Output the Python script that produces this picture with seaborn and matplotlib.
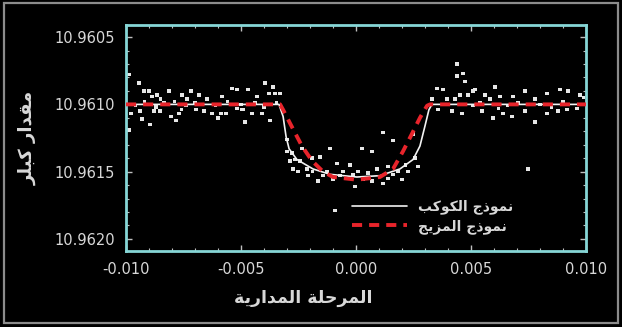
import matplotlib
matplotlib.use("Agg")
import matplotlib.pyplot as plt
from matplotlib.patches import Rectangle
import seaborn as sns
import pandas as pd

# Arabic presentation forms: isolated, final, initial, medial
FORMS = {
    "ا": ("\uFE8D", "\uFE8E", None, None),
    "ب": ("\uFE8F", "\uFE90", "\uFE91", "\uFE92"),
    "ة": ("\uFE93", "\uFE94", None, None),
    "ج": ("\uFE9D", "\uFE9E", "\uFE9F", "\uFEA0"),
    "ح": ("\uFEA1", "\uFEA2", "\uFEA3", "\uFEA4"),
    "د": ("\uFEA9", "\uFEAA", None, None),
    "ذ": ("\uFEAB", "\uFEAC", None, None),
    "ر": ("\uFEAD", "\uFEAE", None, None),
    "ز": ("\uFEAF", "\uFEB0", None, None),
    "ق": ("\uFED5", "\uFED6", "\uFED7", "\uFED8"),
    "ك": ("\uFED9", "\uFEDA", "\uFEDB", "\uFEDC"),
    "ل": ("\uFEDD", "\uFEDE", "\uFEDF", "\uFEE0"),
    "م": ("\uFEE1", "\uFEE2", "\uFEE3", "\uFEE4"),
    "ن": ("\uFEE5", "\uFEE6", "\uFEE7", "\uFEE8"),
    "و": ("\uFEED", "\uFEEE", None, None),
    "ي": ("\uFEF1", "\uFEF2", "\uFEF3", "\uFEF4"),
}


def shape_ar(text):
    """join letters then reverse for right-to-left display"""
    out = []
    for word in text.split(" "):
        shaped = []
        for i, ch in enumerate(word):
            f = FORMS.get(ch)
            if f is None:
                shaped.append(ch)
                continue
            prev = FORMS.get(word[i - 1]) if i > 0 else None
            nxt = FORMS.get(word[i + 1]) if i + 1 < len(word) else None
            join_prev = prev is not None and prev[2] is not None
            join_next = nxt is not None and f[2] is not None
            if join_prev and join_next:
                shaped.append(f[3])
            elif join_prev:
                shaped.append(f[1])
            elif join_next:
                shaped.append(f[2])
            else:
                shaped.append(f[0])
        out.append("".join(shaped))
    return " ".join(out)[::-1]


# texts
XLABEL = "المرحلة المدارية"
YLABEL = "مقدار كبلر"
PLANET_LABEL = "نموذج الكوكب"
BLEND_LABEL = "نموذج المزيج"

# observed points (phase, Kepler magnitude)
obs_phase = [
    -0.00987, -0.00944, -0.00922, -0.00900, -0.00887, -0.00865, -0.00813, -0.00757,
    -0.00717, -0.00683, -0.00648, -0.00583, -0.00539, -0.00517, -0.00978, -0.00987,
    -0.00939, -0.00896, -0.00878, -0.00852, -0.00835, -0.00804, -0.00783, -0.00770,
    -0.00735, -0.00696, -0.00661, -0.00626, -0.00587, -0.00565, -0.00517, -0.00496,
    -0.00470, -0.00396, -0.00361, -0.00378, -0.00352, -0.00330, -0.00430, -0.00483,
    -0.00452, -0.00409, -0.00374, -0.00491, -0.00960, -0.00920, -0.00870, -0.00790,
    -0.00740, -0.00700, -0.00610, -0.00560, -0.00500, -0.00440, -0.00400, -0.00345,
    -0.00600, -0.00760, -0.00850, -0.00930,
    -0.00300, -0.00300, -0.00278, -0.00287, -0.00265, -0.00252, -0.00235, -0.00191,
    -0.00157, -0.00113, -0.00213, -0.00209, -0.00165, -0.00126, -0.00083, -0.00057,
    -0.00070, -0.00026, -0.00013, -0.00004, -0.00143, -0.00243, -0.00274, 0.00026,
    0.00070, 0.00117, 0.00161, 0.00009, 0.00052, 0.00091, 0.00139, 0.00183,
    0.00139, 0.00200, 0.00117, 0.00070, 0.00226, 0.00270, 0.00257, 0.00248,
    0.00030, -0.00100, 0.00160, -0.00190, 0.00215,
    0.00352, 0.00378, 0.00330, 0.00357, 0.00396, 0.00430, 0.00417, 0.00439,
    0.00465, 0.00439, 0.00474, 0.00452, 0.00487, 0.00461, 0.00509, 0.00509,
    0.00517, 0.00561, 0.00604, 0.00583, 0.00626, 0.00683, 0.00735, 0.00778,
    0.00830, 0.00887, 0.00922, 0.00974, 0.00548, 0.00596, 0.00639, 0.00678,
    0.00735, 0.00778, 0.00830, 0.00878, 0.00917, 0.00961, 0.00704, 0.00748,
    0.00540, 0.00660, 0.00800, 0.00900, 0.00990, 0.00620, 0.00850, -0.00091,
]
obs_mag = [
    10.96078, 10.96084, 10.96090, 10.96090, 10.96094, 10.96093, 10.96090, 10.96093,
    10.96090, 10.96093, 10.96096, 10.96094, 10.96088, 10.96089, 10.96107, 10.96119,
    10.96105, 10.96115, 10.96105, 10.96105, 10.96099, 10.96109, 10.96112, 10.96107,
    10.96096, 10.96104, 10.96105, 10.96107, 10.96107, 10.96107, 10.96103, 10.96104,
    10.96089, 10.96084, 10.96087, 10.96092, 10.96092, 10.96092, 10.96094, 10.96113,
    10.96107, 10.96107, 10.96112, 10.96104, 10.96101, 10.96098, 10.96102, 10.96098,
    10.96101, 10.96099, 10.96101, 10.96098, 10.96100, 10.96099, 10.96102, 10.96099,
    10.96110, 10.96104, 10.96096, 10.96111,
    10.96126, 10.96135, 10.96136, 10.96142, 10.96141, 10.96150, 10.96133, 10.96140,
    10.96139, 10.96133, 10.96148, 10.96153, 10.96157, 10.96150, 10.96144, 10.96150,
    10.96153, 10.96145, 10.96152, 10.96161, 10.96153, 10.96142, 10.96148, 10.96133,
    10.96135, 10.96121, 10.96127, 10.96150, 10.96151, 10.96148, 10.96146, 10.96150,
    10.96155, 10.96156, 10.96159, 10.96157, 10.96150, 10.96146, 10.96140, 10.96122,
    10.96156, 10.96156, 10.96152, 10.96150, 10.96145,
    10.96088, 10.96089, 10.96096, 10.96104, 10.96096, 10.96096, 10.96105, 10.96070,
    10.96077, 10.96079, 10.96083, 10.96093, 10.96093, 10.96107, 10.96090, 10.96101,
    10.96089, 10.96093, 10.96087, 10.96096, 10.96094, 10.96094, 10.96090, 10.96096,
    10.96092, 10.96089, 10.96090, 10.96093, 10.96105, 10.96110, 10.96107, 10.96109,
    10.96105, 10.96113, 10.96107, 10.96105, 10.96104, 10.96103, 10.96099, 10.96148,
    10.96099, 10.96101, 10.96100, 10.96098, 10.96095, 10.96103, 10.96102, 10.96179,
]

# planet model (white solid)
planet_phase = [-0.0100, -0.00335, -0.00317, -0.00304, -0.00291, -0.00257, -0.00187,
                -0.00113, 0.00004, 0.00104, 0.00191, 0.00248, 0.00278, 0.00300,
                0.00317, 0.00330, 0.0100]
planet_mag = [10.96100, 10.96100, 10.96109, 10.96124, 10.96133, 10.96141, 10.96148,
              10.96152, 10.96154, 10.96153, 10.96148, 10.96141, 10.96131, 10.96116,
              10.96104, 10.96100, 10.96100]

# blend model (red dashed)
blend_phase = [-0.0100, -0.00330, -0.00317, -0.00287, -0.00235, -0.00191, -0.00143,
               -0.00100, 0.00004, 0.00104, 0.00161, 0.00204, 0.00243, 0.00278,
               0.00309, 0.00322, 0.0100]
blend_mag = [10.96100, 10.96100, 10.96104, 10.96114, 10.96131, 10.96142, 10.96150,
             10.96154, 10.96156, 10.96154, 10.96148, 10.96135, 10.96122, 10.96110,
             10.96101, 10.96100, 10.96100]

x_ticks = [-0.010, -0.005, 0.000, 0.005, 0.010]
y_ticks = [10.9605, 10.9610, 10.9615, 10.9620]

sns.set_style("ticks")
plt.rcParams["font.family"] = ["DejaVu Sans"]

TXT = "#d8d8d8"
EDGE = "#86d6d6"

fig = plt.figure(figsize=(6.22, 3.27), dpi=100, facecolor="black")
ax = fig.add_axes([0.2026, 0.2324, 0.7395, 0.6911])
ax.set_facecolor("black")

obs = pd.DataFrame({"phase": obs_phase, "mag": obs_mag})
sns.scatterplot(data=obs, x="phase", y="mag", ax=ax, marker="s", s=6,
                color="#e6e6e6", edgecolor="none", legend=False, zorder=2)

sns.lineplot(x=planet_phase, y=planet_mag, ax=ax, color="#f2f2f2", lw=1.2,
             sort=False, zorder=3, label=shape_ar(PLANET_LABEL))
sns.lineplot(x=blend_phase, y=blend_mag, ax=ax, color="#e8242b", lw=2.8,
             sort=False, zorder=4, dashes=(2.6, 1.8), label=shape_ar(BLEND_LABEL))

ax.set_xlim(-0.010, 0.010)
ax.set_ylim(10.96209, 10.96041)
ax.set_xticks(x_ticks)
ax.set_xticklabels([f"{v:.3f}" for v in x_ticks])
ax.set_yticks(y_ticks)
ax.set_yticklabels([f"{v:.4f}" for v in y_ticks])
ax.minorticks_on()
ax.tick_params(which="both", direction="in", top=True, right=True,
               colors="#bfbfbf", labelcolor=TXT, labelsize=10.5)
ax.tick_params(which="major", length=4, width=1)
ax.tick_params(which="minor", length=2, width=0.8)
ax.tick_params(axis="x", pad=8)
ax.tick_params(axis="y", pad=8)
for sp in ax.spines.values():
    sp.set_color(EDGE)
    sp.set_linewidth(2)

ax.set_xlabel(shape_ar(XLABEL), color=TXT, fontsize=12.5, fontweight="bold")
ax.xaxis.set_label_coords(0.385, -0.17)
ax.set_ylabel(shape_ar(YLABEL), color=TXT, fontsize=13, fontweight="bold")
ax.yaxis.set_label_coords(-0.195, 0.5)

leg = ax.legend(loc="lower right", bbox_to_anchor=(0.87, 0.02), frameon=False,
                fontsize=10, handlelength=4.0, labelspacing=0.35)
for t in leg.get_texts():
    t.set_color(TXT)
    t.set_fontweight("bold")

fig.patches.append(Rectangle((0.006, 0.012), 0.988, 0.978, transform=fig.transFigure,
                             fill=False, edgecolor="#8c8c8c", lw=1.6))

fig.savefig("out.png", dpi=100, facecolor="black")
